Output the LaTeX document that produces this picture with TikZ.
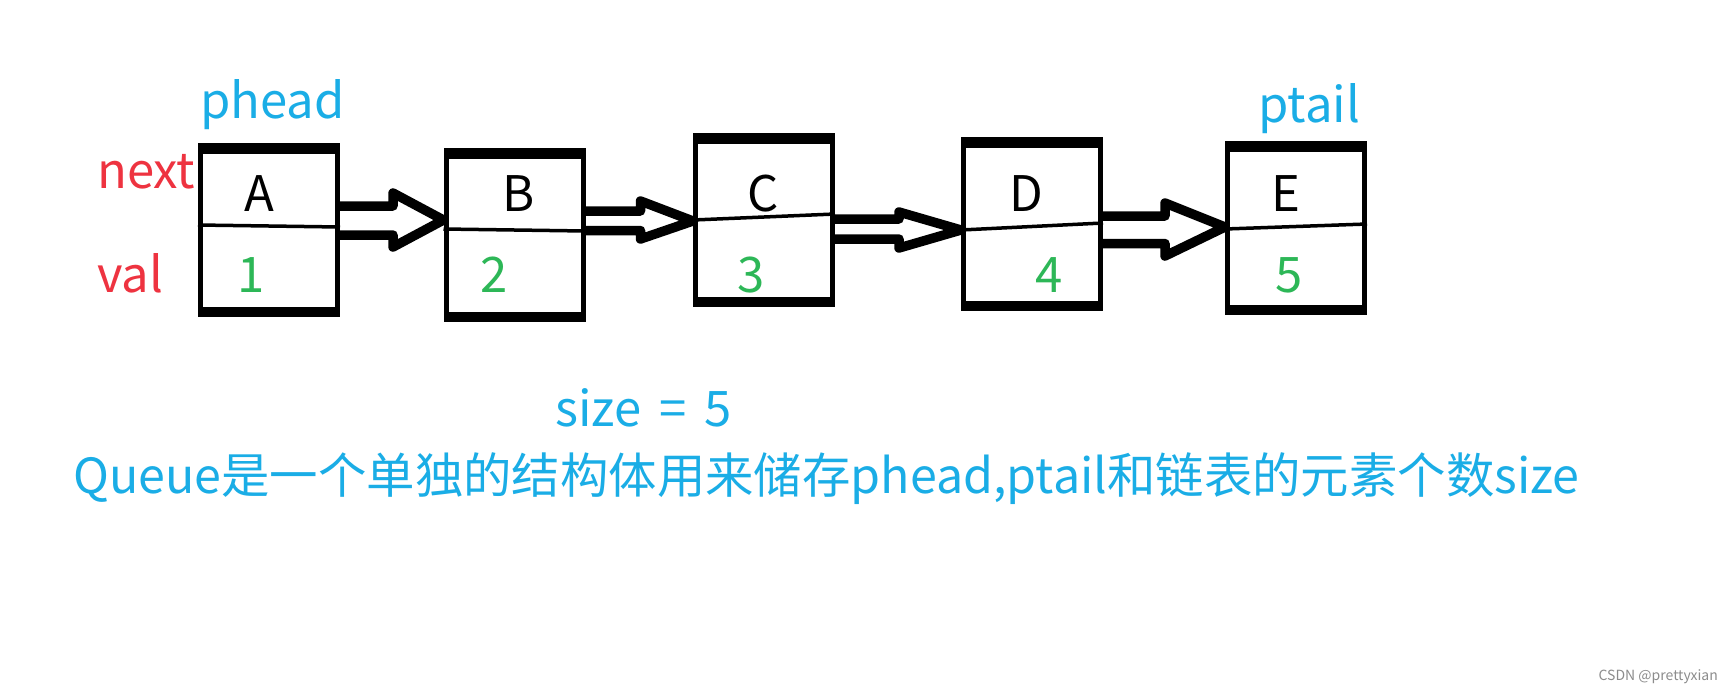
\documentclass[tikz,border=0pt]{standalone}
\usepackage{fontspec}
\setmainfont{Noto Sans CJK SC}
\usetikzlibrary{calc}
\definecolor{pblue}{HTML}{1AADE6}
\definecolor{pred}{HTML}{EE3340}
\definecolor{pgreen}{HTML}{2DB757}
\definecolor{wm}{HTML}{8C8C8C}
\begin{document}
\begin{tikzpicture}[x=1pt,y=-1pt,
  cell/.style={draw,line width=5pt,minimum width=137pt,minimum height=169pt,inner sep=0pt},
  divider/.style={line width=3.5pt},
  hollow/.style={draw,line width=9.5pt,line join=round},
  txt/.style={inner sep=0pt,anchor=base west,font=\fontsize{49}{50}\selectfont},
  ctxt/.style={inner sep=0pt,anchor=base,font=\fontsize{49}{50}\selectfont}]
\fill[white] (0,0) rectangle (1733,694);
\useasboundingbox (0,0) rectangle (1733,694);
% boxes
\node[cell] (A) at (269,230) {};
\node[cell] (B) at (514.5,234.5) {};
\node[cell] (C) at (764,220) {};
\node[cell] (D) at (1032,224) {};
\node[cell] (E) at (1296,228) {};
\foreach \n in {A,B,C,D,E}{
  \fill (\n.north west) rectangle ($(\n.north east)+(0,11)$);
  \fill (\n.south west) rectangle ($(\n.south east)+(0,-10)$);
}
% dividers
\draw[divider] ($(A.west)+(0,-5)$) -- ($(A.east)+(0,-3)$);
\draw[divider] ($(B.west)+(0,-5.5)$) -- ($(B.east)+(0,-3.5)$);
\draw[divider] ($(C.west)+(0,0)$) -- ($(C.east)+(0,-6)$);
\draw[divider] ($(D.west)+(0,6)$) -- ($(D.east)+(0,-1)$);
\draw[divider] ($(E.west)+(0,1)$) -- ($(E.east)+(0,-4)$);
% arrows
\draw[hollow] ($(A.east)+(0,-24)$) -- ++(53,0) -- ++(0,-13) -- ($(B.west)+(0,-14.5)$)
  -- ($(A.east)+(53,17)$) -- ++(0,-12) -- ++(-53,0);
\draw[hollow] ($(B.east)+(0,-23.5)$) -- ++(55,0) -- ++(0,-10) -- ($(C.west)+(0,1)$)
  -- ($(B.east)+(55,4.5)$) -- ++(0,-8.5) -- ++(-55,0);
\draw[hollow] ($(C.east)+(0,-1)$) -- ++(64,0) -- ++(0,-7) -- ($(D.west)+(0,6)$)
  -- ($(C.east)+(64,28)$) -- ++(0,-9) -- ++(-64,0);
\draw[hollow] ($(D.east)+(0,-8)$) -- ++(62,0) -- ++(0,-13) -- ($(E.west)+(0,-1)$)
  -- ($(D.east)+(62,32)$) -- ++(0,-12.5) -- ++(-62,0);
% labels
\node[txt,text=pblue] (phead) at (200,118) {phead};
\node[txt,text=pblue] (ptail) at (1258,122) {ptail};
\node[txt,text=pred] (next) at (97,188) {next};
\node[txt,text=pred] (val) at (97,292) {val};
\node[ctxt] (la) at (259,211) {A};
\node[ctxt] (lb) at (518.5,211) {B};
\node[ctxt] (lc) at (763.5,211) {C};
\node[ctxt] (ld) at (1026,211) {D};
\node[ctxt] (le) at (1286,211) {E};
\node[ctxt,text=pgreen] (v1) at (251.5,292) {1};
\node[ctxt,text=pgreen] (v2) at (494,292) {2};
\node[ctxt,text=pgreen] (v3) at (751.5,292) {3};
\node[ctxt,text=pgreen] (v4) at (1049.5,292) {4};
\node[ctxt,text=pgreen] (v5) at (1289.5,292) {5};
\node[txt,text=pblue] (size) at (555,426) {size\hspace{7pt} =\hspace{7pt} 5};
\node[txt,text=pblue,font=\fontsize{48.4}{50}\selectfont] (desc) at (73,493) {Queue是一个单独的结构体用来储存phead,ptail和链表的元素个数size};
\node[inner sep=0pt,anchor=base east,text=wm,font=\fontsize{14}{15}\selectfont] (wmk) at (1718,680) {CSDN @prettyxian};
\end{tikzpicture}
\end{document}
